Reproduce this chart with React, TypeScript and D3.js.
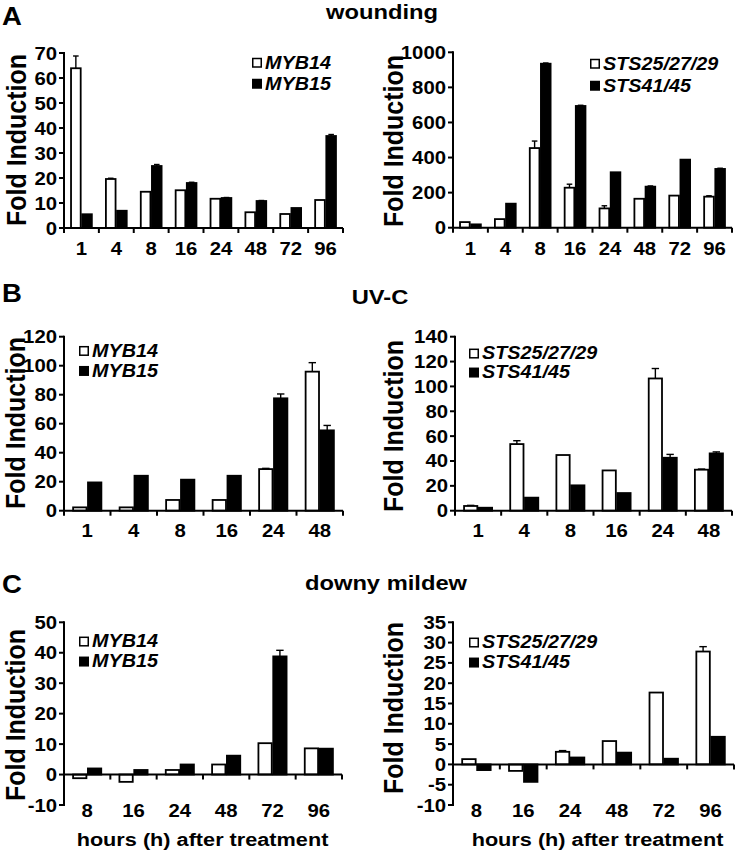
import React from "react";
import * as d3 from "d3";

// ---------- DATA ----------
const woundTimes = ["1", "4", "8", "16", "24", "48", "72", "96"];
const woundMYB14 = [63.9, 19.6, 14.5, 15.1, 11.7, 6.3, 5.6, 11.2];
const woundMYB14Err = [4.9, 0.3, 0, 0, 0, 0, 0, 0];
const woundMYB15 = [5.5, 6.9, 24.8, 18.0, 12.0, 10.8, 8.0, 36.8];
const woundMYB15Err = [0, 0, 0.6, 0.3, 0.2, 0.2, 0, 0.6];
const woundSTSa = [32, 49, 454, 228, 110, 165, 183, 177];
const woundSTSaErr = [0, 0, 40, 20, 15, 0, 0, 5];
const woundSTSb = [19, 137, 935, 694, 316, 234, 388, 335];
const woundSTSbErr = [0, 0, 4, 4, 0, 4, 0, 4];

const uvTimes = ["1", "4", "8", "16", "24", "48"];
const uvMYB14 = [2.3, 2.3, 7.4, 7.4, 28.7, 95.9];
const uvMYB14Err = [0, 0, 0, 0, 0.5, 6.2];
const uvMYB15 = [19.5, 24.1, 21.4, 24.1, 77.5, 55.4];
const uvMYB15Err = [0, 0, 0, 0, 3, 3.4];
const uvSTSa = [3.8, 53.6, 44.8, 32.4, 106.4, 33];
const uvSTSaErr = [0.5, 2.7, 0, 0, 8, 0.5];
const uvSTSb = [2.4, 10.5, 20.4, 14.2, 42.6, 46.1];
const uvSTSbErr = [0, 0, 0, 0, 2.7, 1.2];

const dmTimes = ["8", "16", "24", "48", "72", "96"];
const dmMYB14 = [-1.2, -2.4, 1.5, 3.3, 10.3, 8.6];
const dmMYB14Err = [0, 0, 0, 0, 0, 0];
const dmMYB15 = [2.0, 1.5, 3.3, 6.2, 38.8, 8.5];
const dmMYB15Err = [0, 0, 0, 0, 2, 0];
const dmSTSa = [1.3, -1.6, 3.1, 5.75, 17.7, 27.8];
const dmSTSaErr = [0, 0, 0.3, 0, 0, 1.2];
const dmSTSb = [-1.4, -4.3, 1.7, 2.9, 1.4, 6.8];
const dmSTSbErr = [0, 0, 0, 0, 0, 0];

const mybNames = ["MYB14", "MYB15"];
const stsNames = ["STS25/27/29", "STS41/45"];
const titles = ["wounding", "UV-C", "downy mildew"];
const panelLetters = ["A", "B", "C"];
const yLabel = "Fold Induction";
const xLabel = "hours (h) after treatment";

// ---------- LAYOUT ----------
const FONT = '"Liberation Sans", Arial, Helvetica, sans-serif';
const SX = 1.13;

type PanelCfg = {
  times: string[];
  a: number[];
  aErr: number[];
  b: number[];
  bErr: number[];
  names: string[];
  domain: [number, number];
  step: number;
  xr: [number, number];
  yr: [number, number];
  legX: number;
  legBase: [number, number];
  labX: number;
  labCY: number;
  tickBase: number;
};

const panels: PanelCfg[] = [
  { times: woundTimes, a: woundMYB14, aErr: woundMYB14Err, b: woundMYB15, bErr: woundMYB15Err, names: mybNames,
    domain: [0, 70], step: 10, xr: [64, 343], yr: [228, 53], legX: 252, legBase: [68.5, 89.5], labX: 25.5, labCY: 140, tickBase: 255 },
  { times: woundTimes, a: woundSTSa, aErr: woundSTSaErr, b: woundSTSb, bErr: woundSTSbErr, names: stsNames,
    domain: [0, 1000], step: 200, xr: [453, 732], yr: [227.7, 52.3], legX: 590, legBase: [69.5, 91.5], labX: 403, labCY: 141, tickBase: 255 },
  { times: uvTimes, a: uvMYB14, aErr: uvMYB14Err, b: uvMYB15, bErr: uvMYB15Err, names: mybNames,
    domain: [0, 120], step: 20, xr: [64, 343], yr: [510.7, 336.7], legX: 79, legBase: [356.7, 376.7], labX: 25, labCY: 423, tickBase: 537 },
  { times: uvTimes, a: uvSTSa, aErr: uvSTSaErr, b: uvSTSb, bErr: uvSTSbErr, names: stsNames,
    domain: [0, 140], step: 20, xr: [455, 732], yr: [510.7, 336.7], legX: 469, legBase: [359.3, 378.3], labX: 403, labCY: 426, tickBase: 537 },
  { times: dmTimes, a: dmMYB14, aErr: dmMYB14Err, b: dmMYB15, bErr: dmMYB15Err, names: mybNames,
    domain: [-10, 50], step: 10, xr: [64, 342], yr: [805, 622.3], legX: 79, legBase: [647.3, 667.3], labX: 25, labCY: 715, tickBase: 817 },
  { times: dmTimes, a: dmSTSa, aErr: dmSTSaErr, b: dmSTSb, bErr: dmSTSbErr, names: stsNames,
    domain: [-10, 35], step: 5, xr: [453, 734], yr: [805, 622.3], legX: 469, legBase: [648.3, 668.3], labX: 403, labCY: 708, tickBase: 817 },
];

function T(props: {
  x: number; y: number; size: number; anchor?: string; italic?: boolean; sx?: number; children: React.ReactNode;
}) {
  const { x, y, size, anchor = "start", italic = false, sx = SX, children } = props;
  return (
    <text
      transform={`translate(${x},${y}) scale(${sx},1)`}
      textAnchor={anchor}
      fontSize={size}
      fontWeight="bold"
      fontStyle={italic ? "italic" : "normal"}
      fontFamily={FONT}
      fill="#000"
    >
      {children}
    </text>
  );
}

function Panel({ cfg }: { cfg: PanelCfg }) {
  const x = d3.scaleBand<string>().domain(cfg.times).range(cfg.xr).paddingInner(0.36).paddingOuter(0.18);
  const y = d3.scaleLinear().domain(cfg.domain).range(cfg.yr);
  const ticks = d3.range(cfg.domain[0], cfg.domain[1] + cfg.step / 2, cfg.step);
  const y0 = y(0);
  const bw = x.bandwidth() / 2;
  const stepW = x.step();
  const axisX = cfg.xr[0];

  const bars: React.ReactNode[] = [];
  cfg.times.forEach((t, i) => {
    const gx = x(t)!;
    [
      { v: cfg.a[i], e: cfg.aErr[i], fill: "#fff", off: 0 },
      { v: cfg.b[i], e: cfg.bErr[i], fill: "#000", off: bw },
    ].forEach((s, k) => {
      const bx = gx + s.off;
      const yv = y(s.v);
      const top = Math.min(yv, y0);
      const h = Math.abs(yv - y0);
      bars.push(
        <rect key={`b${i}-${k}`} x={bx + 0.75} y={top} width={bw - 1.5} height={Math.max(h, 0.5)}
          fill={s.fill} stroke="#000" strokeWidth={1.8} />
      );
      if (s.e > 0) {
        const cx = bx + bw / 2;
        const ye = y(s.v + (s.v >= 0 ? s.e : -s.e));
        bars.push(
          <g key={`e${i}-${k}`} stroke="#000" strokeWidth={1.4}>
            <line x1={cx} x2={cx} y1={yv} y2={ye} />
            <line x1={cx - bw * 0.25} x2={cx + bw * 0.25} y1={ye} y2={ye} />
          </g>
        );
      }
    });
  });

  const bounds = d3.range(cfg.times.length + 1).map((i) => cfg.xr[0] + i * stepW);

  return (
    <g>
      {bars}
      <line x1={axisX} x2={axisX} y1={cfg.yr[0] + 1} y2={cfg.yr[1] - 1} stroke="#000" strokeWidth={2} />
      {ticks.map((t) => (
        <g key={`yt${t}`}>
          <line x1={axisX - 5} x2={axisX} y1={y(t)} y2={y(t)} stroke="#000" strokeWidth={2} />
          <T x={axisX - 7} y={y(t) + 6.5} size={18} anchor="end">{String(t)}</T>
        </g>
      ))}
      <line x1={cfg.xr[0]} x2={cfg.xr[1]} y1={y0} y2={y0} stroke="#000" strokeWidth={2} />
      {bounds.map((b, i) => (
        <line key={`xt${i}`} x1={b} x2={b} y1={y0} y2={y0 + 5} stroke="#000" strokeWidth={2} />
      ))}
      {cfg.times.map((t) => (
        <T key={`xl${t}`} x={x(t)! + x.bandwidth() / 2} y={cfg.tickBase} size={18} anchor="middle">{t}</T>
      ))}
      {cfg.names.map((n, k) => (
        <g key={`lg${k}`}>
          <rect x={cfg.legX + 0.75} y={cfg.legBase[k] - 10} width={8.5} height={8.5}
            fill={k === 0 ? "#fff" : "#000"} stroke="#000" strokeWidth={1.5} />
          <T x={cfg.legX + 13} y={cfg.legBase[k]} size={17.5} italic>{n}</T>
        </g>
      ))}
      <text
        transform={`translate(${cfg.labX},${cfg.labCY}) scale(${SX},1) rotate(-90)`}
        textAnchor="middle"
        fontSize={25}
        fontWeight="bold"
        fontFamily={FONT}
      >
        {yLabel}
      </text>
    </g>
  );
}

export default function App() {
  const titlePos = [
    { x: 382, y: 18.5 },
    { x: 380, y: 303.5 },
    { x: 386, y: 590 },
  ];
  const letterPos = [
    { x: 2, y: 25 },
    { x: 2, y: 302 },
    { x: 2, y: 593 },
  ];
  return (
    <svg width={737} height={852} style={{ position: "absolute", left: 0, top: 0, background: "#fff" }}>
      <rect x={0} y={0} width={737} height={852} fill="#fff" />
      {titles.map((t, i) => (
        <T key={`t${i}`} x={titlePos[i].x} y={titlePos[i].y} size={21} anchor="middle">{t}</T>
      ))}
      {panelLetters.map((l, i) => (
        <T key={`l${i}`} x={letterPos[i].x} y={letterPos[i].y} size={25} sx={1.1}>{l}</T>
      ))}
      {panels.map((p, i) => (
        <Panel key={i} cfg={p} />
      ))}
      <T x={202.5} y={846} size={19.2} anchor="middle">{xLabel}</T>
      <T x={597.5} y={846} size={19.2} anchor="middle">{xLabel}</T>
    </svg>
  );
}
